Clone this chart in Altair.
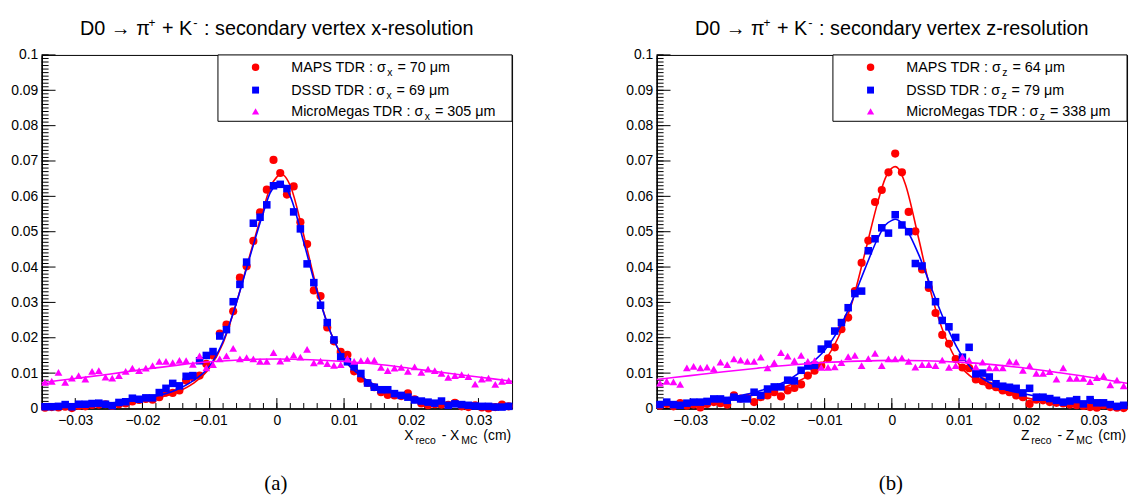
import altair as alt
import pandas as pd

# ---------------- data ----------------
BIN_CENTERS = [round(-0.0345 + 0.001 * i, 4) for i in range(70)]

# panel (a): x-resolution
A_MAPS = [0.0002, 0.0004, 0.0003, 0.0005, 0.0001, 0.0007, 0.0006, 0.0010, 0.0011, 0.0012,
          0.0007, 0.0012, 0.0014, 0.0020, 0.0024, 0.0027, 0.0025, 0.0032, 0.0045, 0.0044,
          0.0051, 0.0079, 0.0088, 0.0093, 0.0126, 0.0150, 0.0212, 0.0237, 0.0275, 0.0370,
          0.0402, 0.0474, 0.0555, 0.0619, 0.0703, 0.0666, 0.0605, 0.0628, 0.0527, 0.0465,
          0.0334, 0.0318, 0.0229, 0.0190, 0.0160, 0.0152, 0.0105, 0.0084, 0.0072, 0.0060,
          0.0046, 0.0038, 0.0037, 0.0035, 0.0043, 0.0026, 0.0014, 0.0009, 0.0012, 0.0011,
          0.0010, 0.0016, 0.0006, 0.0004, 0.0009, 0.0003, 0.0000, 0.0004, 0.0011, 0.0006]
A_DSSD = [0.0005, 0.0005, 0.0006, 0.0011, 0.0005, 0.0012, 0.0012, 0.0014, 0.0015, 0.0012,
          0.0008, 0.0017, 0.0019, 0.0029, 0.0026, 0.0030, 0.0030, 0.0045, 0.0057, 0.0071,
          0.0064, 0.0091, 0.0093, 0.0135, 0.0150, 0.0161, 0.0205, 0.0223, 0.0302, 0.0351,
          0.0414, 0.0524, 0.0541, 0.0576, 0.0630, 0.0634, 0.0622, 0.0556, 0.0508, 0.0409,
          0.0356, 0.0292, 0.0243, 0.0194, 0.0146, 0.0132, 0.0118, 0.0099, 0.0072, 0.0060,
          0.0053, 0.0053, 0.0042, 0.0037, 0.0032, 0.0024, 0.0021, 0.0018, 0.0015, 0.0021,
          0.0009, 0.0013, 0.0011, 0.0009, 0.0007, 0.0006, 0.0006, 0.0004, 0.0004, 0.0006]
A_MM = [0.0074, 0.0077, 0.0102, 0.0074, 0.0086, 0.0093, 0.0083, 0.0105, 0.0107, 0.0089,
        0.0086, 0.0093, 0.0105, 0.0114, 0.0107, 0.0114, 0.0121, 0.0133, 0.0133, 0.0130,
        0.0136, 0.0135, 0.0125, 0.0149, 0.0115, 0.0124, 0.0140, 0.0149, 0.0170, 0.0140,
        0.0144, 0.0140, 0.0133, 0.0133, 0.0158, 0.0134, 0.0142, 0.0151, 0.0145, 0.0167,
        0.0129, 0.0134, 0.0127, 0.0122, 0.0124, 0.0141, 0.0133, 0.0135, 0.0137, 0.0137,
        0.0116, 0.0107, 0.0114, 0.0116, 0.0105, 0.0118, 0.0102, 0.0111, 0.0107, 0.0099,
        0.0088, 0.0093, 0.0096, 0.0090, 0.0069, 0.0083, 0.0086, 0.0068, 0.0077, 0.0079]

# panel (b): z-resolution
B_MAPS = [0.0008, 0.0013, 0.0006, 0.0015, 0.0008, 0.0011, 0.0003, 0.0013, 0.0018, 0.0015,
          0.0011, 0.0037, 0.0028, 0.0030, 0.0018, 0.0032, 0.0037, 0.0046, 0.0034, 0.0051,
          0.0058, 0.0068, 0.0093, 0.0107, 0.0121, 0.0142, 0.0173, 0.0224, 0.0257, 0.0332,
          0.0412, 0.0475, 0.0584, 0.0618, 0.0668, 0.0721, 0.0668, 0.0556, 0.0501, 0.0393,
          0.0341, 0.0270, 0.0208, 0.0183, 0.0140, 0.0116, 0.0114, 0.0082, 0.0077, 0.0065,
          0.0060, 0.0051, 0.0046, 0.0037, 0.0032, 0.0013, 0.0025, 0.0023, 0.0018, 0.0016,
          0.0014, 0.0011, 0.0009, 0.0007, 0.0004, 0.0002, 0.0009, 0.0004, 0.0002, 0.0001]
B_DSSD = [0.0011, 0.0018, 0.0011, 0.0009, 0.0015, 0.0018, 0.0018, 0.0020, 0.0027, 0.0027,
          0.0023, 0.0032, 0.0027, 0.0027, 0.0046, 0.0037, 0.0055, 0.0061, 0.0061, 0.0080,
          0.0078, 0.0108, 0.0120, 0.0122, 0.0168, 0.0182, 0.0219, 0.0243, 0.0285, 0.0325,
          0.0332, 0.0446, 0.0480, 0.0511, 0.0496, 0.0548, 0.0519, 0.0500, 0.0410, 0.0403,
          0.0350, 0.0302, 0.0249, 0.0231, 0.0201, 0.0145, 0.0173, 0.0098, 0.0100, 0.0089,
          0.0070, 0.0063, 0.0060, 0.0057, 0.0044, 0.0057, 0.0032, 0.0032, 0.0028, 0.0023,
          0.0018, 0.0021, 0.0025, 0.0013, 0.0025, 0.0016, 0.0016, 0.0011, 0.0006, 0.0009]
B_MM = [0.0072, 0.0077, 0.0075, 0.0068, 0.0115, 0.0119, 0.0115, 0.0117, 0.0112, 0.0131,
        0.0124, 0.0140, 0.0137, 0.0133, 0.0133, 0.0145, 0.0115, 0.0130, 0.0158, 0.0148,
        0.0135, 0.0150, 0.0133, 0.0135, 0.0116, 0.0116, 0.0118, 0.0130, 0.0147, 0.0150,
        0.0121, 0.0141, 0.0156, 0.0121, 0.0140, 0.0140, 0.0143, 0.0133, 0.0117, 0.0124,
        0.0124, 0.0121, 0.0137, 0.0116, 0.0121, 0.0145, 0.0136, 0.0118, 0.0131, 0.0115,
        0.0115, 0.0115, 0.0133, 0.0131, 0.0108, 0.0121, 0.0099, 0.0099, 0.0104, 0.0083,
        0.0115, 0.0085, 0.0085, 0.0085, 0.0076, 0.0087, 0.0092, 0.0067, 0.0080, 0.0064]

# fitted curves (at these abscissae)
FIT_X = [-0.035, -0.03, -0.025, -0.02, -0.015, -0.0125, -0.01, -0.008, -0.006, -0.004,
         -0.002, -0.001, 0.0, 0.0005, 0.001, 0.002, 0.004, 0.006, 0.008, 0.010,
         0.0125, 0.015, 0.02, 0.025, 0.03, 0.035]
A_MAPS_FIT = [0.0004, 0.0007, 0.0013, 0.0024, 0.0045, 0.0070, 0.0115, 0.0185, 0.0300, 0.0435,
              0.0565, 0.0625, 0.0655, 0.0663, 0.0660, 0.0630, 0.0490, 0.0335, 0.0215, 0.0140,
              0.0090, 0.0058, 0.0028, 0.0014, 0.0007, 0.0004]
A_DSSD_FIT = [0.0005, 0.0008, 0.0015, 0.0027, 0.0052, 0.0078, 0.0120, 0.0190, 0.0300, 0.0430,
              0.0555, 0.0610, 0.0632, 0.0635, 0.0632, 0.0600, 0.0470, 0.0330, 0.0215, 0.0140,
              0.0092, 0.0062, 0.0030, 0.0016, 0.0009, 0.0005]
B_MAPS_FIT = [0.0006, 0.0012, 0.0022, 0.0040, 0.0068, 0.0092, 0.0135, 0.0200, 0.0295, 0.0440,
              0.0590, 0.0650, 0.0680, 0.0684, 0.0678, 0.0635, 0.0480, 0.0315, 0.0200, 0.0125,
              0.0080, 0.0057, 0.0030, 0.0016, 0.0008, 0.0004]
B_DSSD_FIT = [0.0010, 0.0016, 0.0028, 0.0048, 0.0085, 0.0120, 0.0165, 0.0220, 0.0300, 0.0395,
              0.0485, 0.0518, 0.0532, 0.0535, 0.0532, 0.0512, 0.0435, 0.0335, 0.0240, 0.0162,
              0.0100, 0.0068, 0.0040, 0.0024, 0.0014, 0.0009]
MM_FIT_X = [-0.035, -0.03, -0.025, -0.02, -0.015, -0.01, -0.005, 0.0,
            0.005, 0.01, 0.015, 0.02, 0.025, 0.03, 0.035]
A_MM_FIT = [0.0073, 0.0085, 0.0097, 0.0110, 0.0122, 0.0132, 0.0138, 0.0140,
            0.0138, 0.0133, 0.0125, 0.0113, 0.0101, 0.0089, 0.0077]
B_MM_FIT = [0.0082, 0.0093, 0.0104, 0.0114, 0.0123, 0.0130, 0.0134, 0.0136,
            0.0135, 0.0131, 0.0124, 0.0114, 0.0101, 0.0087, 0.0071]

# axis ticks
X_MAJOR = [-0.03, -0.02, -0.01, 0.0, 0.01, 0.02, 0.03]
X_MINOR = [round(-0.034 + 0.002 * i, 3) for i in range(35)]
Y_MAJOR = [round(0.01 * i, 2) for i in range(11)]
Y_MINOR = [round(0.001 * i, 3) for i in range(101)]

A_LEGEND = [("MAPS TDR : σ", "x", " = 70 μm"),
            ("DSSD TDR : σ", "x", " = 69 μm"),
            ("MicroMegas TDR : σ", "x", " = 305 μm")]
B_LEGEND = [("MAPS TDR : σ", "z", " = 64 μm"),
            ("DSSD TDR : σ", "z", " = 79 μm"),
            ("MicroMegas TDR : σ", "z", " = 338 μm")]

# ---------------- style ----------------
FONT = "Liberation Sans"
SERIF = "Liberation Serif"
W, H = 475, 357
RED, BLUE, MAG = "#ff0000", "#0000ff", "#ff00ff"
ONE = alt.Data(values=[{"a": 1}])

WID = {' ': 278, '(': 333, ')': 333, '+': 584, '-': 333, '.': 278, ':': 278, '=': 584,
       '→': 1000, 'π': 574, 'σ': 617, 'μ': 576,
       'A': 667, 'C': 722, 'D': 722, 'E': 667, 'G': 778, 'K': 667, 'M': 833, 'P': 667,
       'R': 722, 'S': 667, 'T': 611, 'X': 667, 'Z': 611,
       'a': 556, 'c': 500, 'd': 556, 'e': 556, 'g': 556, 'i': 222, 'l': 222, 'm': 833,
       'n': 556, 'o': 556, 'r': 333, 's': 500, 't': 278, 'u': 556, 'v': 500, 'x': 500,
       'y': 500, 'z': 500}


def tw(s, size):
    return sum(WID.get(c, 556) for c in s) * size / 1000.0


def pieces(parts, x0, yb, font=FONT, gap=1.0):
    out = []
    x = x0
    for k, (txt, size, dy) in enumerate(parts):
        stripped = txt.lstrip(' ')
        lead = len(txt) - len(stripped)
        xs = x + tw(' ' * lead, size)
        out.append(alt.Chart(ONE).mark_text(
            text=stripped, font=font, fontSize=size, align='left',
            baseline='alphabetic', color='black').encode(
                x=alt.value(xs), y=alt.value(yb + dy)))
        x += tw(txt, size) + gap
    return out


def total_w(parts, gap=1.0):
    return sum(tw(t, s) for t, s, _ in parts) + gap * (len(parts) - 1)


XSCALE = alt.Scale(domain=[-0.035, 0.035], nice=False, zero=False)
YSCALE = alt.Scale(domain=[0, 0.1], nice=False, zero=False)


def X():
    return alt.X('x:Q', scale=XSCALE, title=None,
                 axis=alt.Axis(values=X_MAJOR, format='~g', ticks=False, grid=False,
                               domainColor='black', domainWidth=1.5,
                               labelFont=FONT, labelFontSize=14, labelColor='black',
                               labelPadding=5, labelFlush=False))


def Y():
    return alt.Y('y:Q', scale=YSCALE, title=None,
                 axis=alt.Axis(values=Y_MAJOR, format='~g', ticks=False, grid=False,
                               domainColor='black', domainWidth=1.5,
                               labelFont=FONT, labelFontSize=14, labelColor='black',
                               labelPadding=4))


SERIES_STYLE = [(RED, 'circle', 68), (BLUE, 'square', 58), (MAG, 'triangle-up', 62)]


def panel(maps, dssd, mm, maps_fit, dssd_fit, mm_fit, legend, coord, tag):
    L = []
    # ticks (ROOT style, inside the frame)
    L.append(alt.Chart(pd.DataFrame({'x': X_MINOR})).mark_rule(color='black', strokeWidth=1)
             .encode(x=X(), y=alt.value(H), y2=alt.value(H - 5.5)))
    L.append(alt.Chart(pd.DataFrame({'x': X_MAJOR})).mark_rule(color='black', strokeWidth=1)
             .encode(x=X(), y=alt.value(H), y2=alt.value(H - 10.5)))
    L.append(alt.Chart(pd.DataFrame({'y': Y_MINOR})).mark_rule(color='black', strokeWidth=1)
             .encode(y=Y(), x=alt.value(0), x2=alt.value(7)))
    L.append(alt.Chart(pd.DataFrame({'y': Y_MAJOR})).mark_rule(color='black', strokeWidth=1)
             .encode(y=Y(), x=alt.value(0), x2=alt.value(14)))

    series = [(maps, maps_fit, FIT_X), (dssd, dssd_fit, FIT_X), (mm, mm_fit, MM_FIT_X)]
    for (vals, fit, fx), (color, shape, size) in zip(series, SERIES_STYLE):
        df = pd.DataFrame({'x': BIN_CENTERS, 'y': vals})
        L.append(alt.Chart(df).mark_point(shape=shape, filled=True, color=color, size=size,
                                          opacity=1, strokeWidth=0)
                 .encode(x=X(), y=Y()))
        fdf = pd.DataFrame({'x': fx, 'y': fit})
        L.append(alt.Chart(fdf).mark_line(color=color, strokeWidth=1.6, interpolate='monotone')
                 .encode(x=X(), y=Y()))

    # legend box
    L.append(alt.Chart(ONE).mark_rect(fill='white', stroke='black', strokeWidth=1)
             .encode(x=alt.value(178), x2=alt.value(W), y=alt.value(0), y2=alt.value(67)))
    rows_y = [12.5, 35.5, 57.0]
    for (color, shape, size), ry, (a, sub, b) in zip(SERIES_STYLE, rows_y, legend):
        L.append(alt.Chart(ONE).mark_point(shape=shape, filled=True, color=color, size=size * 0.85,
                                           opacity=1, strokeWidth=0)
                 .encode(x=alt.value(216), y=alt.value(ry)))
        L += pieces([(a, 14.5, 0), (sub, 10.5, 4), (b, 14.5, 0)], 252, ry + 5)

    # title
    tparts = [("D0 → π", 20, 0), ("+", 12, -8), (" + K", 20, 0), ("-", 13, -8),
              (" : secondary vertex " + coord + "-resolution", 20, 0)]
    L += pieces(tparts, W / 2 - total_w(tparts) / 2, -20.5)

    # x-axis title
    C = coord.upper()
    xparts = [(C, 14, 0), ("reco", 10.5, 4), (" - " + C, 14, 0), ("MC", 10.5, 4), (" (cm)", 14, 0)]
    L += pieces(xparts, W - 1 - total_w(xparts, 2.0), 388.5, gap=2.0)

    # panel tag
    L.append(alt.Chart(ONE).mark_text(text=tag, font=SERIF, fontSize=21, align='center',
                                      baseline='alphabetic', color='black')
             .encode(x=alt.value(W / 2 - 1), y=alt.value(439)))

    return alt.layer(*L).properties(width=W, height=H)


pa = panel(A_MAPS, A_DSSD, A_MM, A_MAPS_FIT, A_DSSD_FIT, A_MM_FIT, A_LEGEND, "x", "(a)")
pb = panel(B_MAPS, B_DSSD, B_MM, B_MAPS_FIT, B_DSSD_FIT, B_MM_FIT, B_LEGEND, "z", "(b)")

chart = (alt.hconcat(pa, pb, spacing=110)
         .properties(padding={"left": 2, "top": 6, "right": 0, "bottom": 0},
                     background='white')
         .configure_view(stroke='black', strokeWidth=1))

chart.save("out.html", embed_options={"renderer": "svg", "actions": False})
